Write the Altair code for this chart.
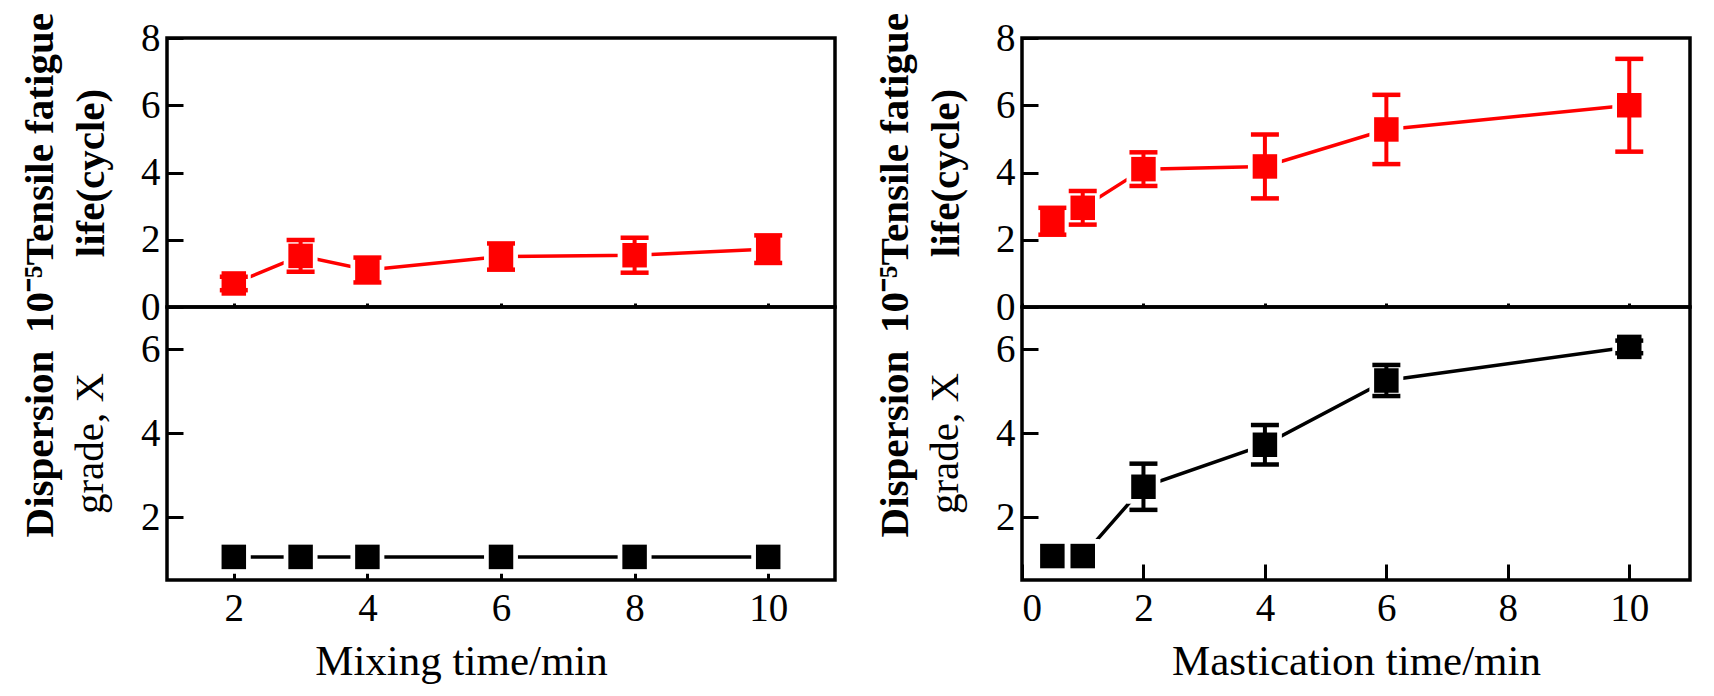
import altair as alt
import pandas as pd

# ---------------- data ----------------
MIX_TIME = [2, 3, 4, 6, 8, 10]
MIX_FATIGUE = [0.70, 1.52, 1.10, 1.50, 1.54, 1.72]
MIX_FATIGUE_ERR = [0.20, 0.47, 0.37, 0.39, 0.52, 0.41]
MIX_DISP = [1.05, 1.05, 1.05, 1.05, 1.05, 1.05]
MIX_DISP_ERR = [0, 0, 0, 0, 0, 0]

MAST_TIME = [0.5, 1, 2, 4, 6, 10]
MAST_FATIGUE = [2.55, 2.95, 4.10, 4.18, 5.28, 6.00]
MAST_FATIGUE_ERR = [0.40, 0.50, 0.50, 0.95, 1.03, 1.38]
MAST_DISP = [1.07, 1.07, 2.72, 3.72, 5.25, 6.05]
MAST_DISP_ERR = [0, 0, 0.55, 0.47, 0.37, 0.15]

FATIGUE_TICKS = [0, 2, 4, 6, 8]
DISP_TICKS = [2, 4, 6]
MIX_TICKS = [2, 4, 6, 8, 10]
MAST_TICKS = [0, 2, 4, 6, 8, 10]

FATIGUE_TITLE = ["10⁻⁵Tensile fatigue", "life(cycle)"]
DISP_TITLE_1 = "Dispersion"
DISP_TITLE_2 = "grade, X"
MIX_XTITLE = "Mixing time/min"
MAST_XTITLE = "Mastication time/min"

RED = "#ff0000"
BLACK = "#000000"
FONT = "Liberation Serif"
W = 668
H_UP = 269
H_LO = 273
YT_SIZE = 41
YT_LINE = 51
YT_PAD = 28


def panel(xs, ys, errs, color, xdom, xticks, ydom, yticks, h,
          ytitle, ytitle_pad, bottom, xtitle=None, xtitle_x=None, extra=None):
    df = pd.DataFrame({
        "x": xs, "y": ys, "e": errs,
        "lo": [a - b for a, b in zip(ys, errs)],
        "hi": [a + b for a, b in zip(ys, errs)],
    })
    xscale = alt.Scale(domain=xdom, nice=False, zero=False)
    yscale = alt.Scale(domain=ydom, nice=False, zero=False)
    if bottom:
        xkw = dict(values=xticks, title=xtitle, tickSize=16, offset=-16,
                   labelPadding=9, titlePadding=12, titleFontSize=43,
                   titleFontWeight="normal")
        if xtitle_x is not None:
            xkw["titleX"] = xtitle_x
        xaxis = alt.Axis(**xkw)
    else:
        xaxis = alt.Axis(values=xticks, labels=False, title=None, tickSize=4, offset=-4)
    yaxis = alt.Axis(values=yticks, title=ytitle, tickSize=16, offset=-16,
                     labelPadding=7, titlePadding=ytitle_pad, titleFontSize=YT_SIZE,
                     titleFontWeight="bold", titleLineHeight=YT_LINE)
    X = alt.X("x:Q", scale=xscale, axis=xaxis)
    base = alt.Chart(df)
    line = base.mark_line(color=color, strokeWidth=3.5).encode(
        x=X, y=alt.Y("y:Q", scale=yscale, axis=yaxis))
    halo = base.mark_square(size=1150, color="white", opacity=1).encode(
        x=X, y=alt.Y("y:Q", scale=yscale, axis=yaxis))
    pts = base.mark_square(size=600, color=color, opacity=1).encode(
        x=X, y=alt.Y("y:Q", scale=yscale, axis=yaxis))
    eb = base.transform_filter(alt.datum.e > 0)
    bar = eb.mark_rule(color=color, strokeWidth=4).encode(
        x=X, y=alt.Y("lo:Q", scale=yscale, axis=yaxis), y2="hi:Q")
    caps = eb.transform_fold(["lo", "hi"], as_=["k", "v"]).mark_tick(
        orient="horizontal", size=28, thickness=4.5, color=color, opacity=1).encode(
        x=X, y=alt.Y("v:Q", scale=yscale, axis=yaxis))
    layers = [line, halo, pts, bar, caps]
    if extra is not None:
        layers.append(extra)
    return alt.layer(*layers).properties(width=W, height=h)


def title2(text):
    return alt.Chart(pd.DataFrame({"t": [text]})).mark_text(
        angle=270, font=FONT, fontSize=YT_SIZE, fontWeight="normal", color=BLACK,
        baseline="bottom", align="center").encode(
        text="t:N", x=alt.value(-55), y=alt.value(H_LO / 2))


up_l = panel(MIX_TIME, MIX_FATIGUE, MIX_FATIGUE_ERR, RED, [1, 11], MIX_TICKS,
             [0, 8], FATIGUE_TICKS, H_UP, FATIGUE_TITLE, YT_PAD, False)
lo_l = panel(MIX_TIME, MIX_DISP, MIX_DISP_ERR, BLACK, [1, 11], MIX_TICKS,
             [0.5, 7], DISP_TICKS, H_LO, DISP_TITLE_1, YT_PAD + YT_LINE, True,
             MIX_XTITLE, 294, title2(DISP_TITLE_2))
up_r = panel(MAST_TIME, MAST_FATIGUE, MAST_FATIGUE_ERR, RED, [0, 11], MAST_TICKS,
             [0, 8], FATIGUE_TICKS, H_UP, FATIGUE_TITLE, YT_PAD, False)
lo_r = panel(MAST_TIME, MAST_DISP, MAST_DISP_ERR, BLACK, [0, 11], MAST_TICKS,
             [0.5, 7], DISP_TICKS, H_LO, DISP_TITLE_1, YT_PAD + YT_LINE, True,
             MAST_XTITLE, None, title2(DISP_TITLE_2))

left = alt.vconcat(up_l, lo_l, spacing=0, bounds="flush")
right = alt.vconcat(up_r, lo_r, spacing=0, bounds="flush")

chart = alt.hconcat(left, right, spacing=35).properties(
    padding={"left": 9, "top": 2, "right": 0, "bottom": 0},
    background="white",
).configure_view(
    stroke=BLACK, strokeWidth=3.5
).configure_axis(
    labelFont=FONT, labelFontSize=39, labelColor=BLACK,
    titleFont=FONT, titleColor=BLACK,
    tickColor=BLACK, tickWidth=3, domain=False, grid=False,
    labelOverlap=False, zindex=1,
)

chart.save("out.html", embed_options={"renderer": "svg", "actions": False})
